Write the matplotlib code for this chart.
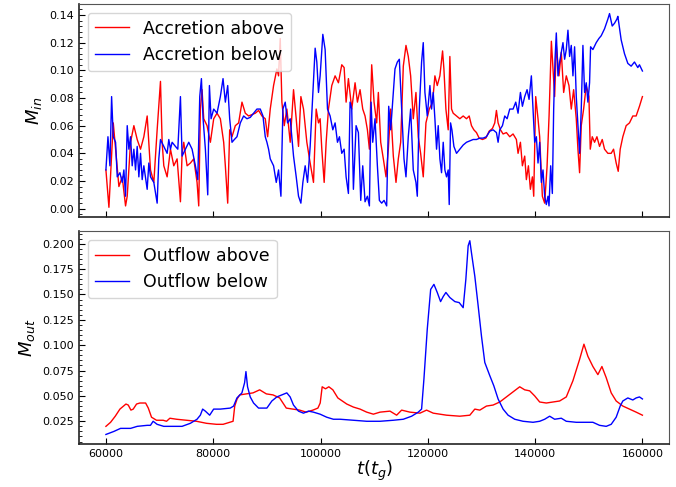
import matplotlib
matplotlib.use("Agg")
import matplotlib.pyplot as plt
from matplotlib.ticker import AutoMinorLocator

# accretion rate, upper hemisphere
t_in_above = [
    60000, 60560, 61370, 61800, 62420, 63040, 63660, 63970, 64590, 65210, 65830, 66450,
    67070, 67690, 68310, 68930, 69550, 70170, 70480, 70790, 71410, 72030, 72650, 73270,
    73890, 74200, 74510, 75130, 75750, 76370, 76990, 77300, 77610, 77920, 78230, 78850,
    79470, 80090, 80710, 81330, 81950, 82260, 82700, 83070, 83500, 84120, 84740, 85360,
    85980, 86600, 87220, 87840, 88460, 89080, 89700, 90140, 90630, 91250, 91870, 92180,
    92490, 92800, 93240, 93730, 94350, 94970, 95470, 95900, 96340, 96830, 97450, 98070,
    98690, 99190, 99620, 99930, 100240, 100680, 101050, 101480, 102100, 102720, 103340,
    103960, 104400, 104770, 105200, 105820, 106440, 106880, 107370, 107870, 108300,
    108740, 109110, 109540, 109980, 110470, 110780, 111220, 111710, 112210, 112640,
    113080, 113570, 114070, 114500, 114940, 115430, 115930, 116360, 116800, 117290,
    117790, 118220, 118660, 119150, 119650, 120270, 120890, 121320, 121760, 122250,
    122750, 123000, 123370, 123800, 124110, 124420, 124730, 125350, 125970, 126590,
    127210, 127710, 128140, 128580, 129070, 129570, 130190, 130810, 131430, 132050,
    132480, 132790, 133100, 133540, 134030, 134650, 135270, 135890, 136510, 136820,
    137260, 137630, 138060, 138370, 138750, 139120, 139490, 139740, 140110, 140540,
    140850, 141350, 141780, 142220, 142600, 143030, 143640, 143950, 144450, 144880,
    145320, 145810, 146310, 146740, 147180, 147670, 147980, 148290, 148600, 149040,
    149530, 150030, 150280, 150650, 151080, 151520, 152010, 152510, 152940, 153560,
    154180, 154620, 155110, 155490, 155860, 156350, 156970, 157590, 158210, 158830,
    159450, 160000,
]
m_in_above = [
    0.028, 0.001, 0.062, 0.043, 0.016, 0.023, 0.002, 0.009, 0.048, 0.060, 0.050, 0.043,
    0.052, 0.067, 0.028, 0.019, 0.057, 0.092, 0.048, 0.031, 0.023, 0.043, 0.031, 0.036,
    0.005, 0.040, 0.048, 0.031, 0.033, 0.036, 0.019, 0.002, 0.072, 0.086, 0.065, 0.060,
    0.048, 0.065, 0.069, 0.065, 0.048, 0.031, 0.004, 0.057, 0.052, 0.060, 0.062, 0.077,
    0.069, 0.067, 0.068, 0.069, 0.071, 0.067, 0.065, 0.052, 0.072, 0.089, 0.101, 0.096,
    0.123, 0.077, 0.060, 0.072, 0.048, 0.086, 0.065, 0.045, 0.081, 0.072, 0.048, 0.033,
    0.019, 0.072, 0.062, 0.065, 0.043, 0.019, 0.048, 0.072, 0.089, 0.096, 0.091,
    0.104, 0.102, 0.077, 0.094, 0.072, 0.091, 0.077, 0.086, 0.072, 0.067,
    0.057, 0.043, 0.104, 0.077, 0.062, 0.084, 0.048, 0.036, 0.023, 0.043,
    0.072, 0.038, 0.019, 0.036, 0.048, 0.103, 0.118, 0.110, 0.096, 0.065,
    0.084, 0.052, 0.040, 0.023, 0.062, 0.072, 0.077, 0.096, 0.089, 0.096,
    0.114, 0.101, 0.072, 0.057, 0.110, 0.072, 0.069, 0.067, 0.065, 0.067,
    0.065, 0.067, 0.060, 0.057, 0.055, 0.051, 0.050, 0.051, 0.056, 0.058,
    0.062, 0.071, 0.062, 0.057, 0.054, 0.055, 0.052, 0.054, 0.050, 0.040,
    0.048, 0.031, 0.038, 0.021, 0.031, 0.014, 0.023, 0.009, 0.081, 0.065,
    0.052, 0.009, 0.004, 0.030, 0.067, 0.121, 0.081, 0.118, 0.096, 0.113,
    0.084, 0.096, 0.089, 0.072, 0.086, 0.065, 0.043, 0.026, 0.060, 0.072,
    0.089, 0.081, 0.043, 0.052, 0.048, 0.052, 0.045, 0.050, 0.043, 0.040,
    0.040, 0.043, 0.033, 0.027, 0.043, 0.052, 0.060, 0.062, 0.067, 0.067,
    0.074, 0.081,
]

# accretion rate, lower hemisphere
t_in_below = [
    60000, 60380, 60750, 61060, 61370, 61800, 62110, 62610, 63040, 63350, 63660, 63970,
    64280, 64590, 64900, 65210, 65520, 65830, 66140, 66450, 66760, 67070, 67690, 68000,
    68310, 68930, 69550, 69860, 70170, 70790, 71410, 71720, 72030, 72340, 72960, 73400,
    73890, 74200, 74820, 75440, 76060, 76680, 77120, 77490, 77800, 78110, 78540, 78980,
    79290, 79600, 80090, 80710, 81330, 81830, 82260, 82700, 83070, 83500, 83940, 84430,
    85050, 85670, 86290, 86910, 87530, 88150, 88770, 89270, 89700, 90010, 90320, 90630,
    91250, 91750, 92180, 92620, 92990, 93420, 93860, 94350, 94970, 95470, 95900, 96340,
    96710, 97140, 97580, 98070, 98570, 99000, 99310, 99620, 99930, 100430, 100860,
    101300, 101790, 102290, 102720, 103160, 103530, 103960, 104400, 104770, 105200,
    105510, 105820, 106130, 106630, 107060, 107500, 107870, 108300, 108740, 109110,
    109420, 109730, 110160, 110600, 110970, 111400, 111840, 112330, 112710, 113080,
    113450, 113880, 114320, 114690, 115120, 115560, 115930, 116360, 116800, 117290,
    117790, 118040, 118410, 118840, 119150, 119460, 119900, 120390, 120700, 121010,
    121320, 121630, 121940, 122250, 122560, 122870, 123180, 123490, 123800, 123990,
    124240, 124490, 124860, 125350, 125970, 126590, 127210, 127830, 128450, 129070,
    129690, 130310, 130930, 131550, 132170, 132790, 133100, 133410, 133910, 134340,
    134780, 135270, 135890, 136390, 136820, 137260, 137630, 138060, 138500, 138870,
    139300, 139610, 139920, 140230, 140540, 140850, 141160, 141470, 141780, 142090,
    142400, 142590, 142900, 143210, 143460, 143710, 143950, 144260, 144570, 144880,
    145190, 145500, 145810, 146120, 146430, 146740, 147050, 147360, 147670, 147980,
    148290, 148600, 148910, 149220, 149530, 149840, 150150, 150340, 150770, 151390,
    151890, 152320, 152940, 153560, 153870, 154370, 154800, 155240, 155420, 156040,
    156660, 157280, 157900, 158520, 159140, 159450, 160000,
]
m_in_below = [
    0.028, 0.052, 0.031, 0.081, 0.052, 0.048, 0.023, 0.026, 0.019, 0.028, 0.009, 0.060,
    0.043, 0.052, 0.031, 0.043, 0.028, 0.045, 0.023, 0.040, 0.021, 0.031, 0.014, 0.033,
    0.023, 0.019, 0.004, 0.036, 0.050, 0.045, 0.040, 0.050, 0.043, 0.048, 0.045, 0.043,
    0.081, 0.038, 0.043, 0.048, 0.043, 0.031, 0.021, 0.081, 0.094, 0.065, 0.043, 0.010,
    0.089, 0.065, 0.072, 0.069, 0.081, 0.094, 0.077, 0.089, 0.065, 0.048, 0.050, 0.052,
    0.062, 0.067, 0.065, 0.066, 0.069, 0.072, 0.072, 0.067, 0.052, 0.048, 0.043, 0.036,
    0.031, 0.019, 0.028, 0.009, 0.072, 0.077, 0.062, 0.065, 0.038, 0.023, 0.009, 0.004,
    0.019, 0.031, 0.019, 0.045, 0.084, 0.116, 0.106, 0.084, 0.096, 0.126, 0.115,
    0.072, 0.067, 0.057, 0.062, 0.048, 0.052, 0.040, 0.043, 0.023, 0.011,
    0.077, 0.072, 0.014, 0.060, 0.055, 0.006, 0.031, 0.005, 0.009, 0.002,
    0.077, 0.048, 0.065, 0.031, 0.006, 0.004, 0.006, 0.002, 0.074, 0.057,
    0.077, 0.101, 0.106, 0.108, 0.072, 0.036, 0.023, 0.052, 0.072, 0.028,
    0.019, 0.009, 0.072, 0.106, 0.120, 0.084, 0.067, 0.089, 0.072, 0.084,
    0.065, 0.043, 0.060, 0.036, 0.026, 0.048, 0.028, 0.023, 0.028, 0.003,
    0.062, 0.057, 0.045, 0.040, 0.043, 0.046, 0.048, 0.049, 0.050, 0.050,
    0.051, 0.051, 0.052, 0.056, 0.057, 0.055, 0.048, 0.057, 0.060, 0.067,
    0.065, 0.072, 0.072, 0.077, 0.069, 0.084, 0.074, 0.081, 0.086, 0.079,
    0.096, 0.072, 0.048, 0.052, 0.033, 0.048, 0.019, 0.028, 0.009, 0.003,
    0.009, 0.002, 0.031, 0.011, 0.072, 0.108, 0.127, 0.096, 0.106, 0.113,
    0.120, 0.108, 0.115, 0.129, 0.110, 0.118, 0.096, 0.117, 0.081, 0.060,
    0.040, 0.072, 0.118, 0.084, 0.091, 0.077, 0.091, 0.117, 0.115, 0.120,
    0.123, 0.125, 0.130, 0.137, 0.141, 0.132, 0.134, 0.137, 0.139, 0.122,
    0.112, 0.105, 0.103, 0.106, 0.102, 0.104, 0.0995,
]

# outflow rate, upper hemisphere
t_out_above = [
    60000, 60870, 61740, 62610, 63730, 64160, 64660, 65090, 65710, 66330, 67400, 67900,
    68500, 69430, 70670, 71300, 71920, 73160, 75020, 76880, 78740, 80600, 81840, 83080,
    83700, 84010, 84450, 84940, 86180, 87420, 88660, 89900, 91140, 92380, 93620, 94860,
    96100, 97340, 98580, 99510, 99940, 100310, 100930, 101550, 102300, 103230, 104890,
    106130, 107370, 108610, 109850, 111090, 112950, 114190, 115120, 116670, 118530,
    119770, 121010, 123490, 125970, 127830, 128760, 129690, 130930, 132170, 133410,
    134650, 135890, 137130, 138060, 138990, 139920, 140850, 142090, 143330, 144570,
    145810, 147050, 148290, 149100, 149840, 150770, 151700, 152450, 153250, 154180,
    155110, 156350, 157590, 158830, 160000,
]
m_out_above = [
    0.020, 0.024, 0.030, 0.037, 0.042, 0.041, 0.036, 0.037, 0.042, 0.043, 0.043, 0.038,
    0.029, 0.026, 0.026, 0.025, 0.028, 0.027, 0.026, 0.025, 0.023, 0.022, 0.022, 0.024,
    0.025, 0.040, 0.047, 0.051, 0.052, 0.053, 0.056, 0.052, 0.051, 0.048, 0.038, 0.037,
    0.036, 0.034, 0.036, 0.038, 0.043, 0.059, 0.057, 0.059, 0.056, 0.048, 0.042,
    0.039, 0.037, 0.034, 0.032, 0.034, 0.035, 0.031, 0.036, 0.034, 0.033,
    0.036, 0.033, 0.031, 0.030, 0.031, 0.037, 0.036, 0.040, 0.041, 0.044,
    0.049, 0.054, 0.059, 0.056, 0.055, 0.050, 0.044, 0.043, 0.044, 0.045,
    0.049, 0.065, 0.086, 0.101, 0.089, 0.079, 0.071, 0.079, 0.068, 0.053,
    0.045, 0.040, 0.037, 0.034, 0.031,
]

# outflow rate, lower hemisphere
t_out_below = [
    60000, 61490, 62730, 64600, 65840, 67700, 68300, 68800, 69540, 70780, 72640, 74190,
    75740, 76980, 77600, 78030, 78530, 79340, 80080, 81320, 83180, 83800, 84420, 85350,
    85850, 86100, 86400, 86900, 87520, 88450, 90000, 90930, 91860, 92790, 93720, 94340,
    94960, 95890, 96820, 97750, 98680, 99920, 101160, 102400, 103650, 106130, 108610,
    111090, 113570, 115430, 116980, 118220, 118840, 119280, 119900, 120530, 121140,
    121760, 122380, 122870, 123370, 124110, 125040, 125850, 126590, 127090, 127520,
    127830, 128140, 128760, 129380, 130000, 130620, 131550, 132300, 133100, 134030,
    134960, 136200, 137750, 139610, 140850, 141780, 142710, 143640, 144880, 145810,
    147670, 149530, 150770, 152010, 153250, 154180, 155110, 155860, 156350, 157280,
    158210, 158830, 159450, 160000,
]
m_out_below = [
    0.012, 0.015, 0.018, 0.018, 0.020, 0.021, 0.021, 0.025, 0.022, 0.020, 0.020, 0.020,
    0.023, 0.027, 0.031, 0.037, 0.035, 0.031, 0.037, 0.037, 0.038, 0.040, 0.048, 0.053,
    0.063, 0.074, 0.059, 0.049, 0.043, 0.038, 0.038, 0.045, 0.049, 0.051, 0.053, 0.049,
    0.041, 0.035, 0.033, 0.035, 0.034, 0.032, 0.029, 0.027, 0.027, 0.026, 0.025,
    0.025, 0.026, 0.027, 0.030, 0.034, 0.037, 0.067, 0.116, 0.155, 0.160,
    0.152, 0.143, 0.148, 0.152, 0.147, 0.143, 0.142, 0.137, 0.165, 0.198,
    0.203, 0.191, 0.168, 0.139, 0.109, 0.083, 0.070, 0.060, 0.047, 0.037,
    0.031, 0.027, 0.025, 0.024, 0.025, 0.027, 0.030, 0.027, 0.028, 0.025,
    0.024, 0.024, 0.024, 0.021, 0.020, 0.022, 0.029, 0.040, 0.045, 0.048,
    0.046, 0.048, 0.049, 0.047,
]


def style_axis(ax):
    ax.tick_params(which="both", direction="in", labelsize=8)
    ax.tick_params(which="major", length=4)
    ax.tick_params(which="minor", length=2)
    ax.yaxis.set_minor_locator(AutoMinorLocator(5))
    for side in ("left", "bottom"):
        ax.spines[side].set_linewidth(1.2)
        ax.spines[side].set_color("#222222")
    for side in ("top", "right"):
        ax.spines[side].set_color("#555555")


fig, (ax1, ax2) = plt.subplots(2, 1, sharex=True, figsize=(6.76, 4.87), dpi=100)
fig.subplots_adjust(left=0.117, right=0.990, top=0.992, bottom=0.088, hspace=0.066)

ax1.plot(t_in_above, m_in_above, color="red", lw=1.0, label="Accretion above")
ax1.plot(t_in_below, m_in_below, color="blue", lw=1.0, label="Accretion below")
ax1.set_ylabel(r"$M_{in}$", fontsize=13)
ax1.legend(loc="upper left", fontsize=12.5, handlelength=2.0)
style_axis(ax1)

ax2.plot(t_out_above, m_out_above, color="red", lw=1.0, label="Outflow above")
ax2.plot(t_out_below, m_out_below, color="blue", lw=1.0, label="Outflow below")
ax2.set_ylabel(r"$M_{out}$", fontsize=13)
ax2.set_xlabel(r"$t(t_g)$", fontsize=13, labelpad=0)
ax2.legend(loc="upper left", fontsize=12.5, handlelength=2.0)
style_axis(ax2)

fig.savefig("out.png", dpi=100)
